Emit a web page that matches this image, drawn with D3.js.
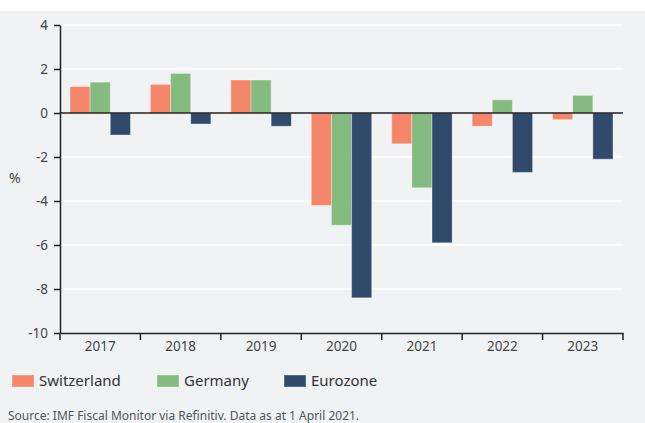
<!DOCTYPE html>
<html>
<head>
<meta charset="utf-8">
<script src="https://cdn.jsdelivr.net/npm/d3@7"></script>
<style>
  body { margin: 0; background: #ffffff; }
  svg { display: block; }
  text { font-family: "Noto Sans", "Open Sans", sans-serif; }
</style>
</head>
<body>
<svg id="chart" width="645" height="423"></svg>
<script>
// Data
var years = ["2017", "2018", "2019", "2020", "2021", "2022", "2023"];
var series = ["Switzerland", "Germany", "Eurozone"];
var switzerland = [1.2, 1.3, 1.5, -4.2, -1.4, -0.6, -0.3];
var germany = [1.4, 1.8, 1.5, -5.1, -3.4, 0.6, 0.8];
var eurozone = [-1.0, -0.5, -0.6, -8.4, -5.9, -2.7, -2.1];
var yTicks = [4, 2, 0, -2, -4, -6, -8, -10];
var colors = ["#f5866a", "#85bb80", "#304a6b"];
var sourceText = "Source: IMF Fiscal Monitor via Refinitiv. Data as at 1 April 2021.";

var values = [switzerland, germany, eurozone];

var svg = d3.select("#chart");

// grey panel
svg.append("rect")
    .attr("x", 0).attr("y", 11)
    .attr("width", 645).attr("height", 412)
    .attr("fill", "#f1f2f4");

var plotLeft = 60, plotRight = 623, plotTop = 25, plotBottom = 333;

var x0 = d3.scaleBand().domain(years).range([plotLeft, plotRight]).padding(0);
var x1 = d3.scaleBand().domain(series).range([10, x0.bandwidth() - 10]).padding(0);
var y = d3.scaleLinear().domain([-10, 4]).range([plotBottom, plotTop]);

// gridlines
svg.append("g")
  .selectAll("line")
  .data(yTicks.filter(function(d) { return d !== 0 && d !== -10; }))
  .join("line")
    .attr("x1", plotLeft).attr("x2", plotRight)
    .attr("y1", function(d) { return y(d); })
    .attr("y2", function(d) { return y(d); })
    .attr("stroke", "#ffffff")
    .attr("stroke-width", 1.5);

// bars
var groups = svg.append("g")
  .selectAll("g")
  .data(years)
  .join("g")
    .attr("transform", function(d) { return "translate(" + x0(d) + ",0)"; });

groups.selectAll("rect")
  .data(function(d, i) {
    return series.map(function(s, j) { return { key: s, value: values[j][i], idx: j }; });
  })
  .join("rect")
    .attr("x", function(d) { return x1(d.key); })
    .attr("width", x1.bandwidth())
    .attr("y", function(d) { return y(Math.max(0, d.value)); })
    .attr("height", function(d) { return Math.abs(y(d.value) - y(0)); })
    .attr("fill", function(d) { return colors[d.idx]; })
    .attr("stroke", "rgba(255,255,255,0.35)")
    .attr("stroke-width", 1);

// zero line
svg.append("line")
    .attr("x1", plotLeft).attr("x2", plotRight)
    .attr("y1", y(0)).attr("y2", y(0))
    .attr("stroke", "#222")
    .attr("stroke-width", 1.5);

// y axis (plain hyphen minus, like the original)
var yAxis = svg.append("g")
    .attr("transform", "translate(" + plotLeft + ",0)")
    .call(d3.axisLeft(y).tickValues(yTicks).tickFormat(function(d) { return String(d); })
      .tickSize(6).tickPadding(6).tickSizeOuter(0));
yAxis.select(".domain").attr("stroke", "#222").attr("stroke-width", 1.5);
yAxis.selectAll(".tick line").attr("stroke", "#222").attr("stroke-width", 1.5);
yAxis.selectAll(".tick text")
    .attr("fill", "#444")
    .style("font-size", "13.5px");

// x axis
var xAxis = svg.append("g")
    .attr("transform", "translate(0," + plotBottom + ")")
    .call(d3.axisBottom(x0).tickSize(0).tickPadding(8));
xAxis.select(".domain").attr("stroke", "#222").attr("stroke-width", 1.5);
xAxis.selectAll(".tick text")
    .attr("fill", "#444")
    .style("font-size", "13.5px");

// boundary ticks on x axis
svg.append("g")
  .selectAll("line")
  .data(years.map(function(d) { return x0(d); }).concat([plotRight]))
  .join("line")
    .attr("x1", function(d) { return d; }).attr("x2", function(d) { return d; })
    .attr("y1", plotBottom).attr("y2", plotBottom + 7)
    .attr("stroke", "#222")
    .attr("stroke-width", 1.5);

// y unit label
svg.append("text")
    .attr("x", 9).attr("y", 183)
    .attr("fill", "#444")
    .style("font-size", "14px")
    .text("%");

// legend
var legendX = [12, 157, 284];
var legend = svg.append("g")
  .selectAll("g")
  .data(series)
  .join("g")
    .attr("transform", function(d, i) { return "translate(" + legendX[i] + ",375)"; });
legend.append("rect")
    .attr("width", 22).attr("height", 12)
    .attr("fill", function(d, i) { return colors[i]; })
    .attr("stroke", "rgba(255,255,255,0.35)");
legend.append("text")
    .attr("x", 27).attr("y", 11)
    .attr("fill", "#333")
    .style("font-size", "15px")
    .text(function(d) { return d; });

// source
svg.append("text")
    .attr("x", 8).attr("y", 420)
    .attr("fill", "#555")
    .style("font-size", "12px")
    .text(sourceText);
</script>
</body>
</html>
